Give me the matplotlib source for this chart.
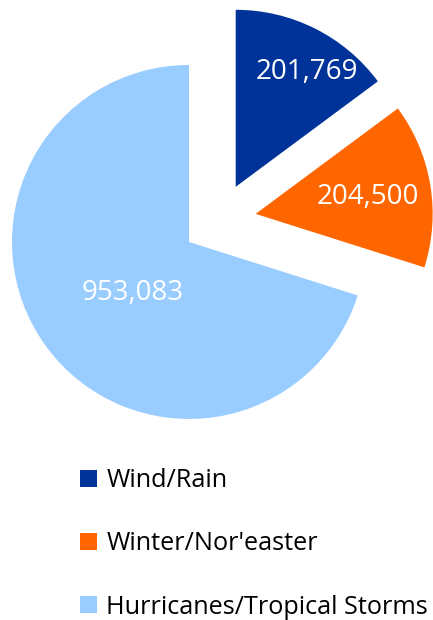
import numpy as np
import matplotlib

matplotlib.use("Agg")
import matplotlib.pyplot as plt

CATEGORIES = ["Wind/Rain", "Winter/Nor'easter", "Hurricanes/Tropical Storms"]
CLAIMS = [201769, 204500, 953083]
COLORS = ["#003399", "#FF6600", "#99CCFF"]

# Value label placement per slice: fraction of radius and angular nudge (deg).
LABEL_DIST = [0.76, 0.64, 0.43]
LABEL_NUDGE = [-5, -1, 6]

W, H = 433, 620
plt.rcParams["font.family"] = ["Open Sans", "DejaVu Sans"]

fig = plt.figure(figsize=(W / 100, H / 100), dpi=100)
ax = fig.add_axes([0, 0, 1, 1])

radius = 177
center = (219, H - 220)
# pie() applies explode in data units, not as a fraction of the radius
wedges, _ = ax.pie(
    CLAIMS,
    colors=COLORS,
    startangle=90,
    counterclock=False,
    explode=[0.21 * radius] * len(CLAIMS),
    radius=radius,
    center=center,
    wedgeprops=dict(linewidth=0),
)

for w, val, d, nudge in zip(wedges, CLAIMS, LABEL_DIST, LABEL_NUDGE):
    mid = np.deg2rad((w.theta1 + w.theta2) / 2 + nudge)
    cx, cy = w.center
    ax.text(cx + d * radius * np.cos(mid), cy + d * radius * np.sin(mid),
            f"{val:,}", ha="center", va="center", color="white", fontsize=20)

ax.set_xlim(0, W)
ax.set_ylim(0, H)
ax.set_aspect("equal")
ax.axis("off")

ax.legend(wedges, CATEGORIES, loc="upper left", bbox_to_anchor=(80, H - 468),
          bbox_transform=ax.transData, frameon=False, fontsize=18.2,
          handlelength=0.66, handleheight=0.66, handletextpad=0.38,
          labelspacing=1.52, borderpad=0, borderaxespad=0)

fig.savefig("out.png", dpi=100)
